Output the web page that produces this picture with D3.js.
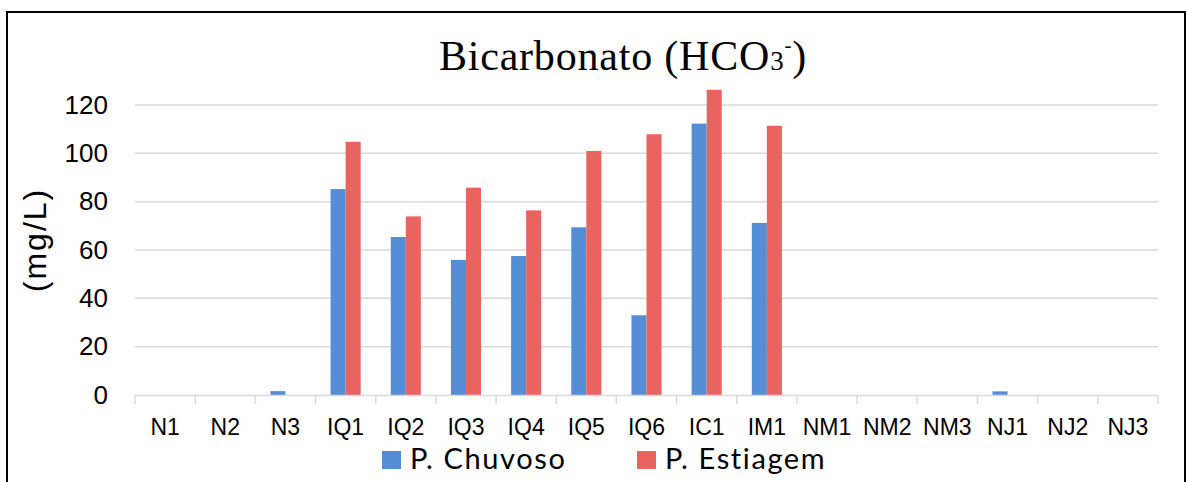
<!DOCTYPE html>
<html>
<head>
<meta charset="utf-8">
<script src="https://cdn.jsdelivr.net/npm/d3@7"></script>
<style>
  html, body { margin: 0; padding: 0; background: #fff; }
  svg { display: block; }
</style>
</head>
<body>
<div id="chart"></div>
<script>
// data
const categories = ["N1", "N2", "N3", "IQ1", "IQ2", "IQ3", "IQ4", "IQ5", "IQ6", "IC1", "IM1", "NM1", "NM2", "NM3", "NJ1", "NJ2", "NJ3"];
const chuvoso = [0, 0, 1.6, 85.2, 65.4, 55.9, 57.5, 69.4, 33, 112.3, 71.2, 0, 0, 0, 1.5, 0, 0];
const estiagem = [0, 0, 0, 104.8, 73.9, 85.8, 76.4, 101, 107.9, 126.3, 111.4, 0, 0, 0, 0, 0, 0];
const seriesNames = ["P. Chuvoso", "P. Estiagem"];
const seriesColors = ["#558ed5", "#e96361"];
const yTicks = [0, 20, 40, 60, 80, 100, 120];

const width = 1186, height = 482;
const plot = { left: 135, right: 1158, top: 105, bottom: 395 };
const gridColor = "#d9d9d9";

const svg = d3.select("#chart").append("svg")
  .attr("width", width)
  .attr("height", height);

// outer frame
svg.append("rect")
  .attr("x", 7).attr("y", 12)
  .attr("width", 1178).attr("height", 520)
  .attr("fill", "none")
  .attr("stroke", "#000")
  .attr("stroke-width", 2);

const x = d3.scaleBand(categories, [plot.left, plot.right]);
const xInner = d3.scaleBand(seriesNames, [x.bandwidth() / 4, x.bandwidth() * 3 / 4]);
const y = d3.scaleLinear([0, 120], [plot.bottom, plot.top]);

// gridlines
svg.append("g")
  .selectAll("line")
  .data(yTicks.filter(d => d > 0))
  .join("line")
  .attr("x1", plot.left).attr("x2", plot.right)
  .attr("y1", d => y(d)).attr("y2", d => y(d))
  .attr("stroke", gridColor)
  .attr("stroke-width", 1.5);

// y axis labels
const yAxis = d3.axisLeft(y).tickValues(yTicks).tickSize(0).tickPadding(27);
const gy = svg.append("g")
  .attr("transform", `translate(${plot.left},0)`)
  .call(yAxis);
gy.select(".domain").remove();
gy.selectAll("text")
  .attr("font-family", "Liberation Sans, Arial, sans-serif")
  .attr("font-size", 26)
  .attr("fill", "#000");

// bars
const series = [chuvoso, estiagem];
series.forEach((vals, si) => {
  svg.append("g")
    .selectAll("rect")
    .data(categories.map((c, i) => ({ c, v: vals[i] })))
    .join("rect")
    .attr("x", d => x(d.c) + xInner(seriesNames[si]))
    .attr("width", xInner.bandwidth())
    .attr("y", d => y(d.v))
    .attr("height", d => y(0) - y(d.v))
    .attr("fill", seriesColors[si]);
});

// x axis
const xAxis = d3.axisBottom(x).tickSize(0).tickPadding(24);
const gx = svg.append("g")
  .attr("transform", `translate(0,${plot.bottom})`)
  .call(xAxis);
gx.select(".domain")
  .attr("stroke", gridColor)
  .attr("stroke-width", 1.5);
gx.selectAll("text")
  .attr("font-family", "Liberation Sans, Arial, sans-serif")
  .attr("font-size", 23)
  .attr("fill", "#000");

// tick marks at band boundaries
const bounds = categories.map(c => x(c)).concat([plot.right]);
gx.append("g")
  .selectAll("line")
  .data(bounds)
  .join("line")
  .attr("x1", d => d).attr("x2", d => d)
  .attr("y1", 0).attr("y2", 9)
  .attr("stroke", gridColor)
  .attr("stroke-width", 1.5);

// title
const title = svg.append("text")
  .attr("x", 623)
  .attr("y", 70)
  .attr("text-anchor", "middle")
  .attr("font-family", "Liberation Serif, DejaVu Serif, serif")
  .attr("font-size", 42)
  .attr("letter-spacing", 0.8)
  .attr("fill", "#000");
title.append("tspan").text("Bicarbonato (HCO");
title.append("tspan").attr("font-size", 27).text("3");
title.append("tspan").attr("font-size", 21).attr("dy", -18).text("-");
title.append("tspan").attr("dy", 18).text(")");

// y axis title
svg.append("text")
  .attr("transform", "translate(46,240) rotate(-90)")
  .attr("text-anchor", "middle")
  .attr("font-family", "Liberation Sans, Arial, sans-serif")
  .attr("font-size", 32)
  .attr("letter-spacing", 2)
  .attr("fill", "#000")
  .text("(mg/L)");

// legend
const legendX = [382, 637];
const leg = svg.append("g")
  .selectAll("g")
  .data(seriesNames)
  .join("g")
  .attr("transform", (d, i) => `translate(${legendX[i]},0)`);
leg.append("rect")
  .attr("x", 0).attr("y", 451)
  .attr("width", 19).attr("height", 18)
  .attr("fill", (d, i) => seriesColors[i]);
leg.append("text")
  .attr("x", 28).attr("y", 469)
  .attr("font-family", "Lato, Open Sans, sans-serif")
  .attr("font-size", 29)
  .attr("letter-spacing", 1.6)
  .attr("fill", "#000")
  .text(d => d);
</script>
</body>
</html>
